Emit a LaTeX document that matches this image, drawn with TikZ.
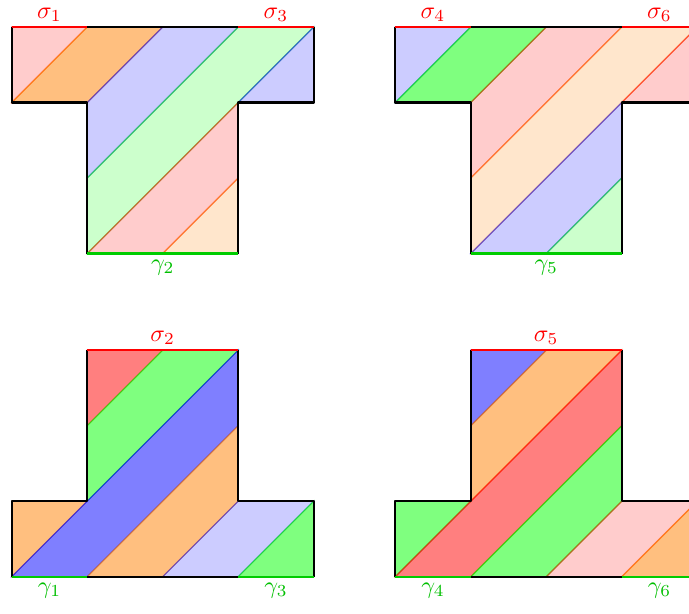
\documentclass[tikz,border=0pt]{standalone}
\usepackage{amsmath}
\usepackage{tikz}
\usetikzlibrary{positioning}

\begin{document}
\begin{tikzpicture}[
    x=1.1cm, y=1.1cm,
    dark/.style={fill=#1, draw=#1, fill opacity=0.5, draw opacity=0.6, line width=0.5pt},
    pale/.style={fill=#1, draw=#1, fill opacity=0.2, draw opacity=0.5, line width=0.5pt},
    rim/.style={line width=0.9pt, line join=round},
    sig/.style={rim, draw=red},
    gam/.style={rim, draw=green!80!black},
    slab/.style={text=red, inner sep=2pt},
    glab/.style={text=green!75!black, inner sep=2.4pt},
  ]
    \useasboundingbox (-0.155,-0.494) rectangle (8.971,7.638);
    \clip (-0.155,-0.494) rectangle (8.971,7.638);

    % --- upper left: T with sigma_1, sigma_3 on top ---------------------
    \begin{scope}[shift={(0,4.28)}]
      \filldraw[pale=red]    (0,2) -- (0,3) -- (1,3) -- cycle;
      \filldraw[dark=orange] (0,2) -- (1,3) -- (2,3) -- (1,2) -- cycle;
      \filldraw[pale=blue]   (1,1) -- (1,2) -- (2,3) -- (3,3) -- cycle;
      \filldraw[pale=green]  (1,0) -- (1,1) -- (3,3) -- (4,3) -- cycle;
      \filldraw[pale=blue]   (3,2) -- (4,3) -- (4,2) -- cycle;
      \filldraw[pale=red]    (1,0) -- (3,2) -- (3,1) -- (2,0) -- cycle;
      \filldraw[pale=orange] (2,0) -- (3,1) -- (3,0) -- cycle;
      \draw[rim] (1,3) -- (3,3);
      \draw[rim] (0,3) -- (0,2) -- (1,2) -- (1,0);
      \draw[rim] (3,0) -- (3,2) -- (4,2) -- (4,3);
      \draw[sig] (0,3) -- (1,3);
      \draw[sig] (3,3) -- (4,3);
      \draw[gam] (1,0) -- (3,0);
      \node[slab, above] (s1) at (0.5,3) {$\sigma_1$};
      \node[slab, above] (s3) at (3.5,3) {$\sigma_3$};
      \node[glab, below] (g2) at (2,0)   {$\gamma_2$};
    \end{scope}

    % --- upper right: sigma_4, sigma_6, gamma_5 -------------------------
    \begin{scope}[shift={(5.08,4.28)}]
      \filldraw[pale=blue]   (0,2) -- (0,3) -- (1,3) -- cycle;
      \filldraw[dark=green]  (0,2) -- (1,3) -- (2,3) -- (1,2) -- cycle;
      \filldraw[pale=red]    (1,1) -- (1,2) -- (2,3) -- (3,3) -- cycle;
      \filldraw[pale=orange] (1,0) -- (1,1) -- (3,3) -- (4,3) -- cycle;
      \filldraw[pale=red]    (3,2) -- (4,3) -- (4,2) -- cycle;
      \filldraw[pale=blue]   (1,0) -- (3,2) -- (3,1) -- (2,0) -- cycle;
      \filldraw[pale=green]  (2,0) -- (3,1) -- (3,0) -- cycle;
      \draw[rim] (1,3) -- (3,3);
      \draw[rim] (0,3) -- (0,2) -- (1,2) -- (1,0);
      \draw[rim] (3,0) -- (3,2) -- (4,2) -- (4,3);
      \draw[sig] (0,3) -- (1,3);
      \draw[sig] (3,3) -- (4,3);
      \draw[gam] (1,0) -- (3,0);
      \node[slab, above] (s4) at (0.5,3) {$\sigma_4$};
      \node[slab, above] (s6) at (3.5,3) {$\sigma_6$};
      \node[glab, below] (g5) at (2,0)   {$\gamma_5$};
    \end{scope}

    % --- lower left: inverted T, sigma_2 on the stem --------------------
    \begin{scope}
      \filldraw[dark=red]    (1,2) -- (1,3) -- (2,3) -- cycle;
      \filldraw[dark=green]  (1,1) -- (1,2) -- (2,3) -- (3,3) -- cycle;
      \filldraw[dark=orange] (0,0) -- (0,1) -- (1,1) -- cycle;
      \filldraw[dark=blue]   (0,0) -- (3,3) -- (3,2) -- (1,0) -- cycle;
      \filldraw[dark=orange] (1,0) -- (3,2) -- (3,1) -- (2,0) -- cycle;
      \filldraw[pale=blue]   (2,0) -- (3,1) -- (4,1) -- (3,0) -- cycle;
      \filldraw[dark=green]  (3,0) -- (4,1) -- (4,0) -- cycle;
      \draw[rim] (1,0) -- (3,0);
      \draw[rim] (0,0) -- (0,1) -- (1,1) -- (1,3);
      \draw[rim] (3,3) -- (3,1) -- (4,1) -- (4,0);
      \draw[sig] (1,3) -- (3,3);
      \draw[gam] (0,0) -- (1,0);
      \draw[gam] (3,0) -- (4,0);
      \node[slab, above] (s2) at (2,3)   {$\sigma_2$};
      \node[glab, below] (g1) at (0.5,0) {$\gamma_1$};
      \node[glab, below] (g3) at (3.5,0) {$\gamma_3$};
    \end{scope}

    % --- lower right: sigma_5, gamma_4, gamma_6 -------------------------
    \begin{scope}[shift={(5.08,0)}]
      \filldraw[dark=blue]   (1,2) -- (1,3) -- (2,3) -- cycle;
      \filldraw[dark=orange] (1,1) -- (1,2) -- (2,3) -- (3,3) -- cycle;
      \filldraw[dark=green]  (0,0) -- (0,1) -- (1,1) -- cycle;
      \filldraw[dark=red]    (0,0) -- (3,3) -- (3,2) -- (1,0) -- cycle;
      \filldraw[dark=green]  (1,0) -- (3,2) -- (3,1) -- (2,0) -- cycle;
      \filldraw[pale=red]    (2,0) -- (3,1) -- (4,1) -- (3,0) -- cycle;
      \filldraw[dark=orange] (3,0) -- (4,1) -- (4,0) -- cycle;
      \draw[rim] (1,0) -- (3,0);
      \draw[rim] (0,0) -- (0,1) -- (1,1) -- (1,3);
      \draw[rim] (3,3) -- (3,1) -- (4,1) -- (4,0);
      \draw[sig] (1,3) -- (3,3);
      \draw[gam] (0,0) -- (1,0);
      \draw[gam] (3,0) -- (4,0);
      \node[slab, above] (s5) at (2,3)   {$\sigma_5$};
      \node[glab, below] (g4) at (0.5,0) {$\gamma_4$};
      \node[glab, below] (g6) at (3.5,0) {$\gamma_6$};
    \end{scope}
  \end{tikzpicture}
\end{document}
